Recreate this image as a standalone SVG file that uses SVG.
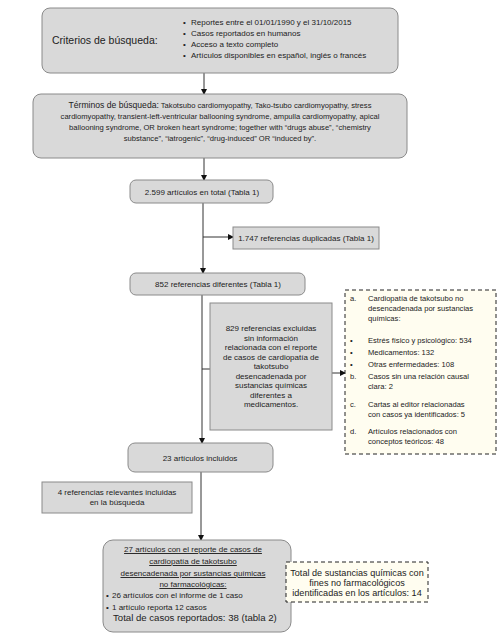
<svg xmlns="http://www.w3.org/2000/svg" width="500" height="641" viewBox="0 0 500 641">
<defs>
<marker id="arr" markerWidth="6" markerHeight="6" refX="5" refY="3" orient="auto" markerUnits="userSpaceOnUse">
<path d="M0,0 L6,3 L0,6 Z" fill="#111"/>
</marker>
<style>
text{font-family:"Liberation Sans",Arial,sans-serif;fill:#222;}
.box{fill:#d9d9d9;stroke:#8a8a8a;stroke-width:1;}
.dash{fill:#fffdf0;stroke:#222;stroke-width:1;stroke-dasharray:4,3;}
.con{stroke:#333;stroke-width:1;fill:none;}
.s{font-size:7.6px;}
.t{font-size:8px;}
.m{font-size:8px;}
.c{text-anchor:middle;}
</style>
</defs>
<rect width="500" height="641" fill="#fff"/>

<g id="connectors">
<line class="con" x1="204" y1="73" x2="204" y2="94" marker-end="url(#arr)"/>
<line class="con" x1="204" y1="158" x2="204" y2="180" marker-end="url(#arr)"/>
<line class="con" x1="203" y1="203" x2="203" y2="273" marker-end="url(#arr)"/>
<line class="con" x1="203" y1="237" x2="233" y2="237" marker-end="url(#arr)"/>
<line class="con" x1="202" y1="295" x2="202" y2="443" marker-end="url(#arr)"/>
<line class="con" x1="202" y1="369" x2="210" y2="369"/>
<line class="con" x1="332" y1="373" x2="345" y2="373" marker-end="url(#arr)"/>
<line class="con" x1="201" y1="472" x2="201" y2="540" marker-end="url(#arr)"/>
</g>

<g id="criterios">
<rect class="box" x="42" y="8" width="356" height="65" rx="8"/>
<text x="52" y="44" style="font-size:10.5px">Criterios de búsqueda:</text>
<g class="m">
<text x="183" y="25">•</text><text x="191" y="25">Reportes entre el 01/01/1990 y el 31/10/2015</text>
<text x="183" y="36">•</text><text x="191" y="36">Casos reportados en humanos</text>
<text x="183" y="47">•</text><text x="191" y="47">Acceso a texto completo</text>
<text x="183" y="58">•</text><text x="191" y="58">Artículos disponibles en español, inglés o francés</text>
</g>
</g>

<g id="terminos">
<rect class="box" x="33" y="94" width="374" height="64" rx="8"/>
<text class="c s" x="220" y="108"><tspan style="font-size:8.6px">Términos de búsqueda:</tspan> Takotsubo cardiomyopathy, Tako-tsubo cardiomyopathy, stress</text>
<text class="c s" x="220" y="119">cardiomyopathy, transient-left-ventricular ballooning syndrome, ampulla cardiomyopathy, apical</text>
<text class="c s" x="220" y="130">ballooning syndrome, OR broken heart syndrome; together with “drugs abuse”, “chemistry</text>
<text class="c s" x="220" y="141">substance”, “iatrogenic”, “drug-induced” OR “induced by”.</text>
</g>

<g id="total2599">
<rect class="box" x="130" y="180" width="143" height="23" rx="6"/>
<text class="c t" x="202" y="195">2.599 artículos en total (Tabla 1)</text>
</g>

<g id="duplicadas">
<rect class="box" x="233" y="227" width="146" height="22"/>
<text class="c t" x="306" y="241">1.747 referencias duplicadas (Tabla 1)</text>
</g>

<g id="diferentes">
<rect class="box" x="130" y="273" width="175" height="22" rx="6"/>
<text class="c t" x="218" y="287">852 referencias diferentes (Tabla 1)</text>
</g>

<g id="excluidas">
<rect class="box" x="210" y="303" width="122" height="127"/>
<g class="c t">
<text x="271" y="331">829 referencias excluidas</text>
<text x="271" y="340.5">sin información</text>
<text x="271" y="350">relacionada con el reporte</text>
<text x="271" y="359.5">de casos de cardiopatía de</text>
<text x="271" y="369">takotsubo</text>
<text x="271" y="378.5">desencadenada por</text>
<text x="271" y="388">sustancias químicas</text>
<text x="271" y="397.5">diferentes a</text>
<text x="271" y="407">medicamentos.</text>
</g>
</g>

<g id="detalle">
<rect class="dash" x="345" y="290" width="151" height="164"/>
<g class="s">
<text x="350" y="301">a.</text><text x="368" y="301">Cardiopatía de takotsubo no</text>
<text x="368" y="311">desencadenada por sustancias</text>
<text x="368" y="321">químicas:</text>
<text x="350" y="343">•</text><text x="368" y="343">Estrés físico y psicológico: 534</text>
<text x="350" y="355">•</text><text x="368" y="355">Medicamentos: 132</text>
<text x="350" y="367">•</text><text x="368" y="367">Otras enfermedades: 108</text>
<text x="350" y="379">b.</text><text x="368" y="379">Casos sin una relación causal</text>
<text x="368" y="389">clara: 2</text>
<text x="350" y="407">c.</text><text x="368" y="407">Cartas al editor relacionadas</text>
<text x="368" y="417">con casos ya identificados: 5</text>
<text x="350" y="434">d.</text><text x="368" y="434">Artículos relacionados con</text>
<text x="368" y="444">conceptos teóricos: 48</text>
</g>
</g>

<g id="incluidos">
<rect class="box" x="128" y="443" width="145" height="29" rx="7"/>
<text class="c t" x="200" y="461">23 artículos incluidos</text>
</g>

<g id="relevantes">
<rect class="box" x="42" y="482" width="150" height="31"/>
<text class="c t" x="117" y="495">4 referencias relevantes incluidas</text>
<text class="c t" x="117" y="505">en la búsqueda</text>
</g>

<g id="final">
<rect class="box" x="103" y="540" width="188" height="92" rx="10"/>
<g class="c t" style="text-decoration:underline">
<text x="193" y="552">27 artículos con el reporte de casos de</text>
<text x="193" y="564">cardiopatía de takotsubo</text>
<text x="193" y="576">desencadenada por sustancias químicas</text>
<text x="193" y="587">no farmacológicas:</text>
</g>
<g class="t">
<text x="106" y="598">•</text><text x="112" y="598">26 artículos con el informe de 1 caso</text>
<text x="106" y="610">•</text><text x="112" y="610">1 artículo reporta 12 casos</text>
</g>
<text x="113" y="621" style="font-size:9.6px">Total de casos reportados: 38 (tabla 2)</text>
</g>

<g id="sustancias">
<rect class="dash" x="286" y="562" width="142" height="40"/>
<g class="c" style="font-size:9.1px">
<text x="357" y="576">Total de sustancias químicas con</text>
<text x="357" y="586">fines no farmacológicos</text>
<text x="357" y="596">identificadas en los artículos: 14</text>
</g>
</g>
</svg>
